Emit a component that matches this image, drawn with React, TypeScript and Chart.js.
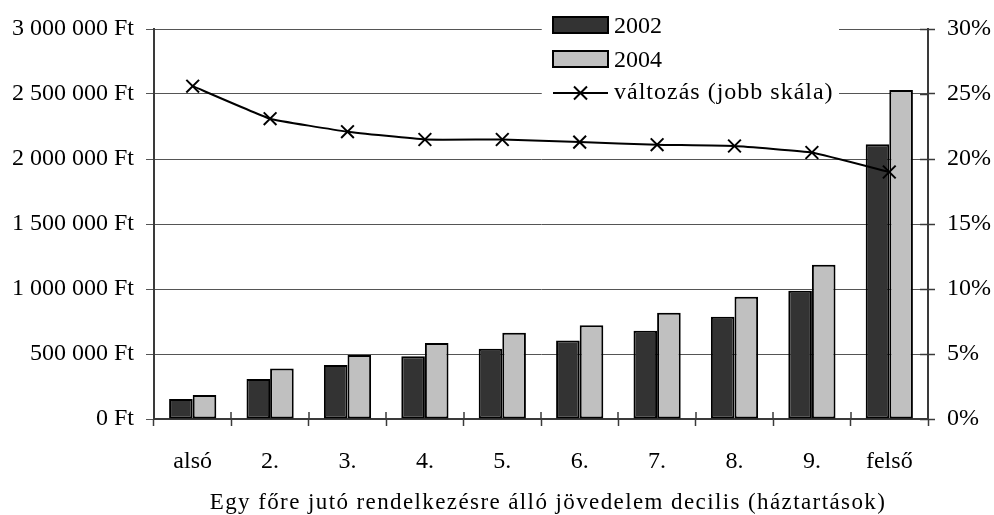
import React, { useEffect, useRef } from 'react';
import { Chart, registerables } from 'chart.js';

Chart.register(...registerables);

const categories = ['alsó', '2.', '3.', '4.', '5.', '6.', '7.', '8.', '9.', 'felső'];
const income2002 = [154000, 308000, 416000, 483000, 540000, 604000, 678000, 786000, 987000, 2113000];
const income2004 = [185000, 388000, 493000, 584000, 663000, 722000, 817000, 940000, 1187000, 2531000];
const changePct = [25.6, 23.1, 22.1, 21.5, 21.5, 21.3, 21.1, 21.0, 20.5, 19.0];
const seriesLabels = ['2002', '2004', 'változás (jobb skála)'];
const xTitle = 'Egy főre jutó rendelkezésre álló jövedelem decilis (háztartások)';

const FONT = 'Liberation Serif, Times New Roman, serif';
const DARK = '#333333';
const LIGHT = '#c0c0c0';
const AXIS = '#3a3a3a';

const formatFt = (v: number) => String(v).replace(/\B(?=(\d{3})+(?!\d))/g, ' ') + ' Ft';

const innerTicks = {
  id: 'innerTicks',
  afterDraw(chart: any) {
    const { ctx, scales } = chart;
    const x = scales.x;
    const y1 = scales.y1;
    ctx.save();
    ctx.strokeStyle = AXIS;
    ctx.lineWidth = 1.5;
    const n = categories.length;
    const w = (x.right - x.left) / n;
    for (let i = 0; i <= n; i++) {
      const px = Math.round(x.left + i * w);
      ctx.beginPath();
      ctx.moveTo(px, x.top - 7);
      ctx.lineTo(px, x.top);
      ctx.stroke();
    }
    y1.ticks.forEach((t: any) => {
      const py = Math.round(y1.getPixelForValue(t.value)) + 0.5;
      ctx.beginPath();
      ctx.moveTo(y1.left - 8, py);
      ctx.lineTo(y1.left, py);
      ctx.stroke();
    });
    ctx.restore();
  },
};

const axisTitle = {
  id: 'axisTitle',
  afterDraw(chart: any) {
    const { ctx } = chart;
    ctx.save();
    ctx.font = `23px ${FONT}`;
    (ctx as any).letterSpacing = '1.4px';
    ctx.fillStyle = '#000';
    ctx.textAlign = 'center';
    ctx.textBaseline = 'alphabetic';
    ctx.fillText(xTitle, 548, 509);
    ctx.restore();
  },
};

const customLegend = {
  id: 'customLegend',
  afterDraw(chart: any) {
    const { ctx } = chart;
    ctx.save();
    ctx.fillStyle = '#ffffff';
    ctx.fillRect(542, 4, 297, 102);
    const bx = 553, bw = 55, bh = 16;
    const boxes = [
      { y: 17, color: DARK, label: seriesLabels[0], base: 33 },
      { y: 51, color: LIGHT, label: seriesLabels[1], base: 67 },
    ];
    ctx.font = `24px ${FONT}`;
    ctx.textBaseline = 'alphabetic';
    ctx.textAlign = 'left';
    boxes.forEach((b) => {
      ctx.fillStyle = b.color;
      ctx.fillRect(bx, b.y, bw, bh);
      ctx.strokeStyle = '#000';
      ctx.lineWidth = 2;
      ctx.strokeRect(bx, b.y, bw, bh);
      ctx.fillStyle = '#000';
      ctx.fillText(b.label, 614, b.base);
    });
    const ly = 93;
    ctx.strokeStyle = '#000';
    ctx.lineWidth = 2;
    ctx.beginPath();
    ctx.moveTo(bx, ly);
    ctx.lineTo(bx + bw, ly);
    ctx.stroke();
    const cx = bx + bw / 2, r = 6.5;
    ctx.beginPath();
    ctx.moveTo(cx - r, ly - r);
    ctx.lineTo(cx + r, ly + r);
    ctx.moveTo(cx - r, ly + r);
    ctx.lineTo(cx + r, ly - r);
    ctx.stroke();
    ctx.fillStyle = '#000';
    (ctx as any).letterSpacing = '1px';
    ctx.fillText(seriesLabels[2], 614, 99);
    ctx.restore();
  },
};

export default function App() {
  const ref = useRef<HTMLCanvasElement | null>(null);

  useEffect(() => {
    if (!ref.current) return;
    Chart.defaults.font.family = FONT;
    Chart.defaults.font.size = 24;
    Chart.defaults.color = '#000';
    const chart = new Chart(ref.current, {
      type: 'bar',
      data: {
        labels: categories,
        datasets: [
          {
            type: 'line',
            label: seriesLabels[2],
            data: changePct,
            yAxisID: 'y1',
            borderColor: '#000',
            borderWidth: 2,
            pointStyle: 'crossRot',
            pointRadius: 9,
            pointBorderWidth: 2,
            pointBorderColor: '#000',
            pointBackgroundColor: '#000',
            tension: 0.1,
            order: 0,
          } as any,
          {
            label: seriesLabels[0],
            data: income2002,
            yAxisID: 'y',
            backgroundColor: DARK,
            borderColor: '#000',
            borderWidth: 2,
            borderSkipped: false,
            categoryPercentage: 0.61,
            barPercentage: 1,
            order: 1,
          },
          {
            label: seriesLabels[1],
            data: income2004,
            yAxisID: 'y',
            backgroundColor: LIGHT,
            borderColor: '#000',
            borderWidth: 2,
            borderSkipped: false,
            categoryPercentage: 0.61,
            barPercentage: 1,
            order: 1,
          },
        ],
      },
      options: {
        responsive: false,
        animation: false,
        devicePixelRatio: 1,
        layout: { padding: { top: 29, left: 0, right: 0, bottom: 0 } },
        plugins: { legend: { display: false }, tooltip: { enabled: false } },
        scales: {
          x: {
            offset: true,
            grid: { display: true, drawOnChartArea: false, offset: true, tickLength: 7, color: AXIS, tickWidth: 1.5 },
            border: { display: true, color: AXIS, width: 2 },
            ticks: { padding: 21, maxRotation: 0, autoSkip: false },
            title: { display: false },
            afterFit: (s: any) => { s.height = 96; },
          },
          y: {
            position: 'left',
            min: 0,
            max: 3000000,
            ticks: { stepSize: 500000, padding: 12, callback: (v: any) => formatFt(Number(v)) },
            grid: { color: '#555', tickLength: 8, lineWidth: 1 },
            border: { display: true, color: AXIS, width: 2 },
            afterFit: (s: any) => { s.width = 154; },
          },
          y1: {
            position: 'right',
            min: 0,
            max: 30,
            ticks: { stepSize: 5, padding: 12, callback: (v: any) => `${v}%` },
            grid: { drawOnChartArea: false, tickLength: 7, color: AXIS, tickWidth: 1.5 },
            border: { display: true, color: AXIS, width: 2 },
            afterFit: (s: any) => { s.width = 66; },
          },
        },
      },
      plugins: [innerTicks, customLegend, axisTitle],
    });
    return () => chart.destroy();
  }, []);

  return (
    <div style={{ position: 'fixed', left: 0, top: 0, width: 994, height: 515, background: '#fff' }}>
      <canvas ref={ref} width={994} height={515} style={{ display: 'block' }} />
    </div>
  );
}
